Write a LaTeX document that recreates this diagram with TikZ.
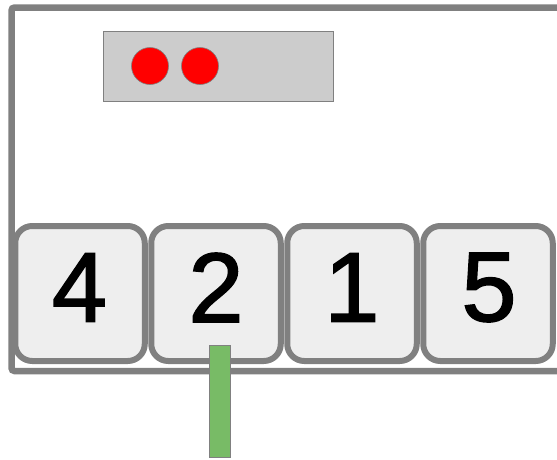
\documentclass[tikz,border=0pt]{standalone}
\usepackage{fontspec}
\setmainfont{Liberation Sans}
\definecolor{frame}{HTML}{808080}
\definecolor{cardfill}{HTML}{EEEEEE}
\definecolor{boxfill}{HTML}{CCCCCC}
\definecolor{barfill}{RGB}{120,187,102}
\begin{document}
\begin{tikzpicture}[x=1pt,y=-1pt,
  card/.style={draw=frame, fill=cardfill, line width=6pt, rounded corners=17pt,
    minimum width=129.5pt, minimum height=135pt, inner sep=0pt},
  digit/.style={inner sep=0pt, font=\fontsize{99}{99}\selectfont\addfontfeature{FakeBold=1.6}},
  dot/.style={circle, draw=frame, line width=0.6pt, fill=red, minimum size=37pt, inner sep=0pt},
]
\useasboundingbox (0,0) rectangle (557,459);
\begin{scope}
\clip (0,0) rectangle (557,459);
% outer frame (open to the right)
\draw[frame, line width=6.5pt, rounded corners=3pt] (570,7.5) -- (11.5,7.5) -- (11.5,371) -- (570,371);
% top box
\node[draw=frame, line width=0.8pt, fill=boxfill, minimum width=230pt, minimum height=70pt, inner sep=0pt] (box) at (218,66) {};
\node[dot] (d1) at (150,66) {};
\node[dot] (d2) at (200,66) {};
% cards
\node[card] (c1) at (80,293.5) {};
\node[card] (c2) at (216,293.5) {};
\node[card] (c3) at (352,293.5) {};
\node[card] (c4) at (488,293.5) {};
\node[digit] (t1) at (79.5,287.5) {4};
\node[digit] (t2) at (216,287.5) {2};
\node[digit] (t3) at (352,287.5) {1};
\node[digit] (t4) at (489,287.5) {5};
% green bar
\node[draw=frame, line width=0.6pt, fill=barfill, minimum width=21pt, minimum height=112pt, inner sep=0pt] (bar) at (219.5,401) {};
\end{scope}
\end{tikzpicture}
\end{document}
